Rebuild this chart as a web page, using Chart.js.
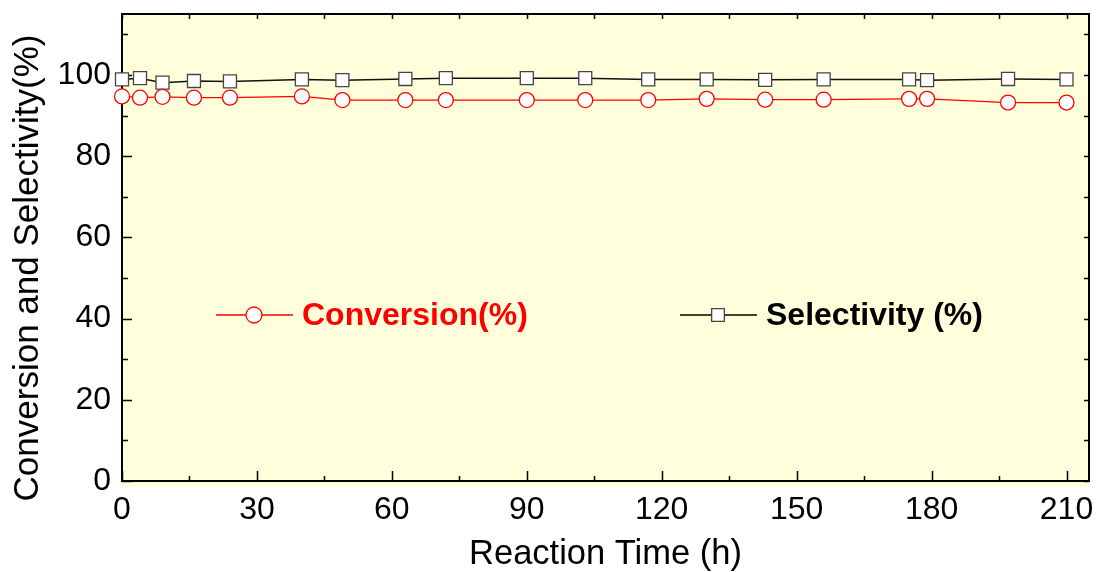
<!DOCTYPE html>
<html>
<head>
<meta charset="utf-8">
<script src="https://cdn.jsdelivr.net/npm/chart.js"></script>
<style>
  body { margin: 0; background: #fff; }
  #wrap { width: 1097px; height: 572px; }
</style>
</head>
<body>
<div id="wrap"><canvas id="stability" width="1097" height="572"></canvas></div>
<script>
// reaction time (h) and the two series
const hours = [0, 4, 9, 16, 24, 40, 49, 63, 72, 90, 103, 117, 130, 143, 156, 175, 179, 197, 210];
const conversion = [94.7, 94.4, 94.6, 94.4, 94.4, 94.7, 93.8, 93.8, 93.8, 93.8, 93.8, 93.8, 94.1, 93.9, 93.9, 94.1, 94.1, 93.2, 93.2];
const selectivity = [98.9, 99.2, 98.1, 98.5, 98.4, 98.9, 98.7, 99.0, 99.2, 99.2, 99.2, 98.9, 98.9, 98.8, 98.9, 98.9, 98.7, 99.0, 98.9];
const seriesNames = ['Conversion(%)', 'Selectivity (%)'];
const yTitle = 'Conversion and Selectivity(%)';

const FONT = "'Liberation Sans', Arial, sans-serif";

function toPoints(ys) {
  return hours.map(function (h, i) { return { x: h, y: ys[i] }; });
}

// yellow plot area + box frame with inward ticks on all four sides
const frame = {
  id: 'frame',
  beforeDraw(chart) {
    const a = chart.chartArea, ctx = chart.ctx;
    ctx.save();
    ctx.fillStyle = '#ffffdc';
    ctx.fillRect(a.left, a.top, a.right - a.left, a.bottom - a.top + 5);
    ctx.restore();
  },
  beforeDatasetsDraw(chart) {
    const a = chart.chartArea, ctx = chart.ctx;
    const xs = chart.scales.x, ys = chart.scales.y;
    ctx.save();
    ctx.strokeStyle = '#000';
    ctx.lineWidth = 1.5;
    for (let v = 0; v <= 215; v += 15) {
      const px = Math.round(xs.getPixelForValue(v)) + 0.5;
      const len = v % 30 === 0 ? 10 : 5;
      ctx.beginPath();
      ctx.moveTo(px, a.bottom); ctx.lineTo(px, a.bottom - len);
      ctx.moveTo(px, a.top); ctx.lineTo(px, a.top + 5);
      ctx.stroke();
    }
    for (let v = 0; v <= 115; v += 10) {
      const py = Math.round(ys.getPixelForValue(v)) + 0.5;
      const len = v % 20 === 0 ? 10 : 6;
      ctx.beginPath();
      ctx.moveTo(a.left, py); ctx.lineTo(a.left + len, py);
      ctx.moveTo(a.right, py); ctx.lineTo(a.right - 5, py);
      ctx.stroke();
    }
    ctx.lineWidth = 2;
    ctx.strokeRect(a.left, a.top, a.right - a.left, a.bottom - a.top);

    // y axis title, centred a little lower than the plot box like the original
    ctx.translate(28, 268);
    ctx.rotate(-Math.PI / 2);
    ctx.fillStyle = '#000';
    ctx.font = '35px ' + FONT;
    ctx.textAlign = 'center';
    ctx.textBaseline = 'middle';
    ctx.fillText(yTitle, 0, 0);
    ctx.restore();
  },
  afterDatasetsDraw(chart) {
    const ctx = chart.ctx;
    const items = [
      { x: 216, y: 315, color: '#ff0000', border: '#ff0000', style: 'circle', r: 8 },
      { x: 680, y: 315, color: '#000', border: '#444', style: 'rect', r: 9 }
    ];
    ctx.save();
    items.forEach(function (it, i) {
      ctx.strokeStyle = it.color;
      ctx.lineWidth = 1.3;
      ctx.beginPath();
      ctx.moveTo(it.x, it.y); ctx.lineTo(it.x + 77, it.y);
      ctx.stroke();
      ctx.fillStyle = '#fff';
      ctx.strokeStyle = it.border;
      Chart.helpers.drawPoint(ctx, { pointStyle: it.style, radius: it.r, borderWidth: 1.3 }, it.x + 38, it.y);
      ctx.fillStyle = it.color;
      ctx.font = 'bold 32px ' + FONT;
      ctx.textBaseline = 'middle';
      ctx.fillText(seriesNames[i], it.x + 86, it.y + 1);
    });
    ctx.restore();
  }
};

function noPad(s) {
  s.paddingTop = 0; s.paddingBottom = 0; s.paddingLeft = 0; s.paddingRight = 0;
}

new Chart('stability', {
  type: 'scatter',
  data: {
    datasets: [{
      label: seriesNames[0],
      data: toPoints(conversion),
      showLine: true,
      borderColor: '#ff0000',
      borderWidth: 1.3,
      pointStyle: 'circle',
      pointRadius: 7.5,
      pointBackgroundColor: '#fff',
      pointBorderColor: '#ff0000',
      pointBorderWidth: 1.3,
      clip: false
    }, {
      label: seriesNames[1],
      data: toPoints(selectivity),
      showLine: true,
      borderColor: '#111',
      borderWidth: 1.5,
      pointStyle: 'rect',
      pointRadius: 9.2,
      pointBackgroundColor: '#fff',
      pointBorderColor: '#444',
      pointBorderWidth: 1.3,
      clip: false
    }]
  },
  plugins: [frame],
  options: {
    responsive: false,
    animation: false,
    layout: { autoPadding: false, padding: { top: 14, right: 8, left: 0, bottom: 0 } },
    plugins: { legend: { display: false }, tooltip: { enabled: false } },
    scales: {
      x: {
        type: 'linear', min: 0, max: 215,
        afterFit(s) { s.height = 91; noPad(s); },
        grid: { display: false, drawTicks: false },
        border: { display: false },
        ticks: { stepSize: 30, includeBounds: false, color: '#000', padding: 10,
                 font: { family: FONT, size: 32 } },
        title: { display: true, text: 'Reaction Time (h)', color: '#000',
                 font: { family: FONT, size: 34.5, lineHeight: 1.0 }, padding: { top: 0, bottom: 0 } }
      },
      y: {
        min: 0, max: 115,
        afterFit(s) { s.width = 122; noPad(s); },
        grid: { display: false, drawTicks: false },
        border: { display: false },
        ticks: { stepSize: 20, includeBounds: false, color: '#000', padding: 11,
                 font: { family: FONT, size: 32 } }
      }
    }
  }
});
</script>
</body>
</html>
